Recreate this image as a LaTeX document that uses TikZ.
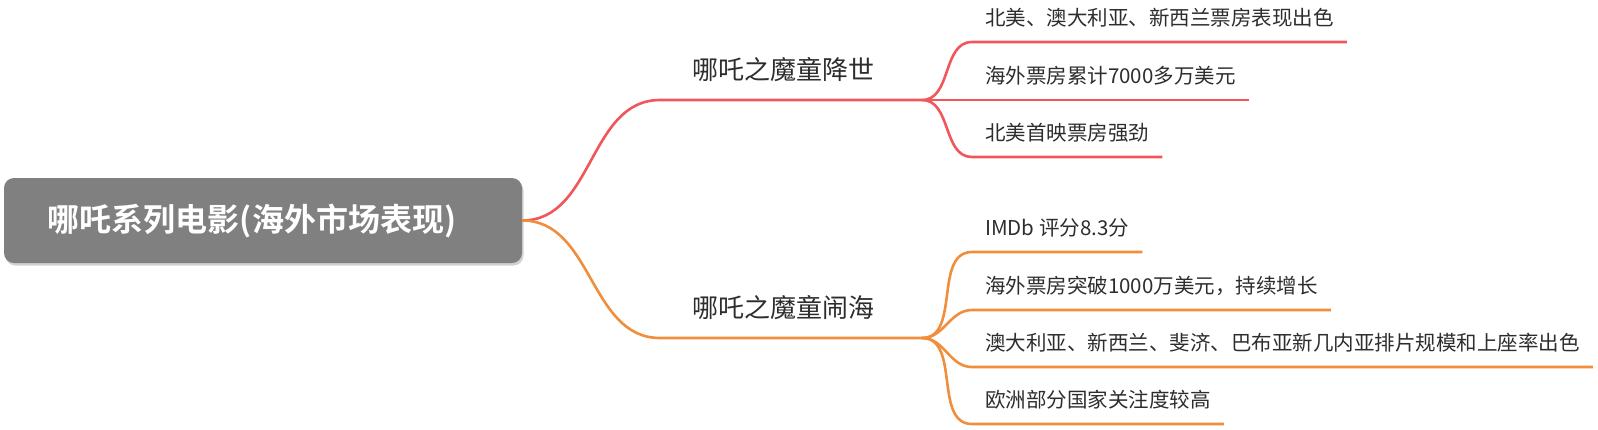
\documentclass[tikz,border=0pt]{standalone}
\usepackage{fontspec}
\setmainfont{Noto Sans CJK SC}[BoldFont={* Bold}]
\usetikzlibrary{shadows}
\definecolor{rootgray}{RGB}{128,128,128}
\definecolor{redline}{RGB}{240,86,90}
\definecolor{orangeline}{RGB}{240,142,60}
\definecolor{textdark}{RGB}{45,45,45}

\begin{document}
\begin{tikzpicture}[x=1pt,y=-1pt,
  rootbox/.style={rounded corners=10pt,fill=rootgray,text=white,
    minimum width=518pt,minimum height=85pt,
    font=\bfseries\fontsize{32}{36}\selectfont,
    drop shadow={shadow xshift=1.5pt,shadow yshift=-2.5pt,fill=black,opacity=0.18}},
  topic/.style={anchor=south west,inner xsep=32pt,inner ysep=20pt,text depth=0pt,
    text=textdark,font=\fontsize{26}{30}\selectfont},
  leaf/.style={anchor=south west,inner xsep=13pt,inner ysep=16pt,text depth=0pt,
    text=textdark,font=\fontsize{20.5}{24}\selectfont},
  link/.style={line width=2.6pt}]
  \useasboundingbox (0,0) rectangle (1598,429);

  % root
  \node[rootbox] (root) at (263,220.5) {\bfseries 哪吒系列电影(海外市场表现)\rule{22pt}{0pt}};

  % first film
  \node[topic] (film1) at (660,100) {哪吒之魔童降世};
  \coordinate (fork1) at (922,100);
  \node[leaf] (leaf11) at (972,42) {北美、澳大利亚、新西兰票房表现出色};
  \node[leaf] (leaf12) at (972,100) {海外票房累计7000多万美元};
  \node[leaf] (leaf13) at (972,157) {北美首映票房强劲};
  \draw[link,redline] (root.east) to[out=0,in=180] (film1.south west) -- (fork1);
  \foreach \n in {leaf11,leaf12,leaf13}
    \draw[link,redline] (fork1) to[out=0,in=180] (\n.south west) -- (\n.south east);

  % second film
  \node[topic] (film2) at (660,338) {哪吒之魔童闹海};
  \coordinate (fork2) at (922,338);
  \node[leaf] (leaf21) at (972,252) {IMDb 评分8.3分};
  \node[leaf] (leaf22) at (972,310) {海外票房突破1000万美元，持续增长};
  \node[leaf] (leaf23) at (972,367) {澳大利亚、新西兰、斐济、巴布亚新几内亚排片规模和上座率出色};
  \node[leaf] (leaf24) at (972,424) {欧洲部分国家关注度较高};
  \draw[link,orangeline] (root.east) to[out=0,in=180] (film2.south west) -- (fork2);
  \foreach \n in {leaf21,leaf22,leaf23,leaf24}
    \draw[link,orangeline] (fork2) to[out=0,in=180] (\n.south west) -- (\n.south east);
\end{tikzpicture}
\end{document}
